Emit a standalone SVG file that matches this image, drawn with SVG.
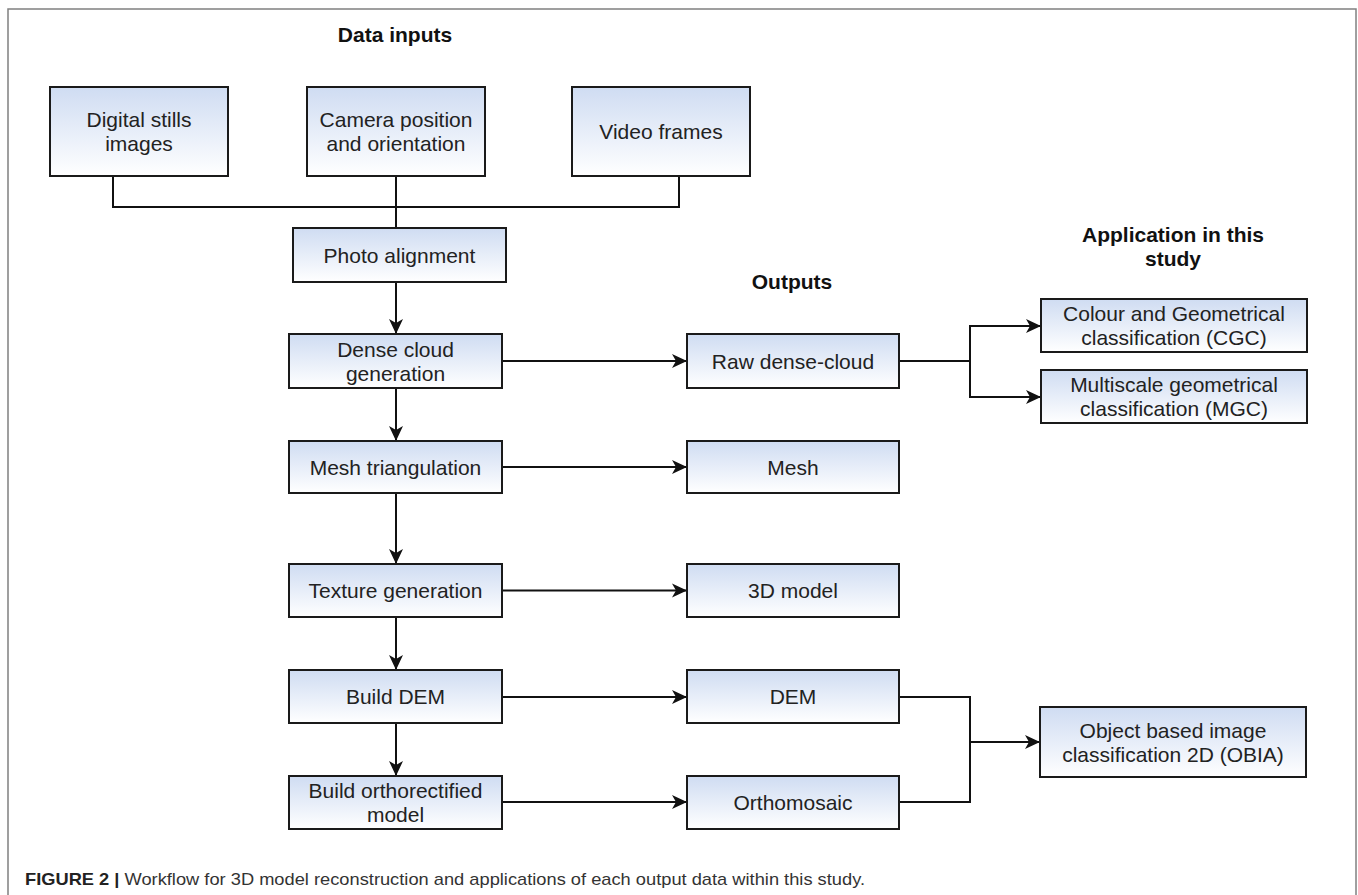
<svg xmlns="http://www.w3.org/2000/svg" width="1358" height="895" viewBox="0 0 1358 895">
<style>
.box{fill:url(#g);stroke:#1a1a1a;stroke-width:2}
.t{font-family:"Liberation Sans",Arial,sans-serif;font-size:21px;fill:#222;text-anchor:middle}
.h{font-family:"Liberation Sans",Arial,sans-serif;font-size:21px;font-weight:bold;fill:#111;text-anchor:middle}
.c{fill:none;stroke:#111;stroke-width:2}
.a{fill:none;stroke:#111;stroke-width:2;marker-end:url(#arr)}
.cap{font-family:"Liberation Sans",Arial,sans-serif;font-size:17px;fill:#333}
</style>
<defs>
<linearGradient id="g" x1="0" y1="0" x2="0" y2="1">
<stop offset="0" stop-color="#cfdcf2"/>
<stop offset="1" stop-color="#ffffff"/>
</linearGradient>
<marker id="arr" markerUnits="userSpaceOnUse" markerWidth="16" markerHeight="16" viewBox="0 0 16 16" refX="15" refY="8" orient="auto">
<path d="M0,1 L15,8 L0,15 L4,8 z" fill="#111"/>
</marker>
</defs>
<rect x="0" y="0" width="1358" height="895" fill="#fff"/>
<rect x="8" y="9" width="1348" height="900" fill="none" stroke="#808080" stroke-width="1.5"/>

<text class="h" x="395" y="42">Data inputs</text>
<text class="h" x="792" y="289">Outputs</text>
<text class="h" x="1173" y="242">Application in this</text>
<text class="h" x="1173" y="266">study</text>

<g id="connectors">
<polyline class="c" points="113,176 113,207 679,207 679,176"/>
<line class="c" x1="396" y1="176" x2="396" y2="228"/>
<line class="a" x1="396" y1="282" x2="396" y2="334"/>
<line class="a" x1="396" y1="388" x2="396" y2="441"/>
<line class="a" x1="396" y1="493" x2="396" y2="564"/>
<line class="a" x1="396" y1="617" x2="396" y2="670"/>
<line class="a" x1="396" y1="723" x2="396" y2="776"/>
<line class="a" x1="502" y1="361" x2="687" y2="361"/>
<line class="a" x1="502" y1="467" x2="687" y2="467"/>
<line class="a" x1="502" y1="590.5" x2="687" y2="590.5"/>
<line class="a" x1="502" y1="697" x2="687" y2="697"/>
<line class="a" x1="502" y1="802" x2="687" y2="802"/>
<line class="c" x1="899" y1="361" x2="970" y2="361"/>
<line class="c" x1="970" y1="326" x2="970" y2="397"/>
<line class="a" x1="969" y1="326" x2="1041" y2="326"/>
<line class="a" x1="969" y1="397" x2="1041" y2="397"/>
<polyline class="c" points="899,697 970,697 970,802 899,802"/>
<line class="a" x1="970" y1="742" x2="1040" y2="742"/>
</g>

<g id="digital-stills">
<rect class="box" x="50" y="87" width="178" height="89"/>
<text class="t" x="139" y="127">Digital stills</text>
<text class="t" x="139" y="151">images</text>
</g>
<g id="camera">
<rect class="box" x="307" y="87" width="178" height="89"/>
<text class="t" x="396" y="127">Camera position</text>
<text class="t" x="396" y="151">and orientation</text>
</g>
<g id="video">
<rect class="box" x="572" y="87" width="178" height="89"/>
<text class="t" x="661" y="139">Video frames</text>
</g>
<g id="photo-alignment">
<rect class="box" x="293" y="228" width="213" height="54"/>
<text class="t" x="399.5" y="262.5">Photo alignment</text>
</g>
<g id="dense-cloud">
<rect class="box" x="289" y="334" width="213" height="54"/>
<text class="t" x="395.5" y="357">Dense cloud</text>
<text class="t" x="395.5" y="381">generation</text>
</g>
<g id="mesh-triangulation">
<rect class="box" x="289" y="441" width="213" height="52"/>
<text class="t" x="395.5" y="474.5">Mesh triangulation</text>
</g>
<g id="texture-generation">
<rect class="box" x="289" y="564" width="213" height="53"/>
<text class="t" x="395.5" y="598">Texture generation</text>
</g>
<g id="build-dem">
<rect class="box" x="289" y="670" width="213" height="53"/>
<text class="t" x="395.5" y="704">Build DEM</text>
</g>
<g id="build-ortho">
<rect class="box" x="289" y="776" width="213" height="53"/>
<text class="t" x="395.5" y="798">Build orthorectified</text>
<text class="t" x="395.5" y="822">model</text>
</g>

<g id="raw-dense-cloud">
<rect class="box" x="687" y="334" width="212" height="54"/>
<text class="t" x="793" y="368.5">Raw dense-cloud</text>
</g>
<g id="mesh">
<rect class="box" x="687" y="441" width="212" height="52"/>
<text class="t" x="793" y="474.5">Mesh</text>
</g>
<g id="model-3d">
<rect class="box" x="687" y="564" width="212" height="53"/>
<text class="t" x="793" y="598">3D model</text>
</g>
<g id="dem">
<rect class="box" x="687" y="670" width="212" height="53"/>
<text class="t" x="793" y="704">DEM</text>
</g>
<g id="orthomosaic">
<rect class="box" x="687" y="776" width="212" height="53"/>
<text class="t" x="793" y="810">Orthomosaic</text>
</g>

<g id="cgc">
<rect class="box" x="1041" y="299" width="266" height="53"/>
<text class="t" x="1174" y="321">Colour and Geometrical</text>
<text class="t" x="1174" y="345">classification (CGC)</text>
</g>
<g id="mgc">
<rect class="box" x="1041" y="370" width="266" height="53"/>
<text class="t" x="1174" y="392">Multiscale geometrical</text>
<text class="t" x="1174" y="416">classification (MGC)</text>
</g>
<g id="obia">
<rect class="box" x="1040" y="707" width="266" height="70"/>
<text class="t" x="1173" y="737.5">Object based image</text>
<text class="t" x="1173" y="761.5">classification 2D (OBIA)</text>
</g>

<text class="cap" x="25" y="885" textLength="840" lengthAdjust="spacingAndGlyphs"><tspan font-weight="bold" fill="#222">FIGURE 2 | </tspan>Workflow for 3D model reconstruction and applications of each output data within this study.</text>
</svg>
